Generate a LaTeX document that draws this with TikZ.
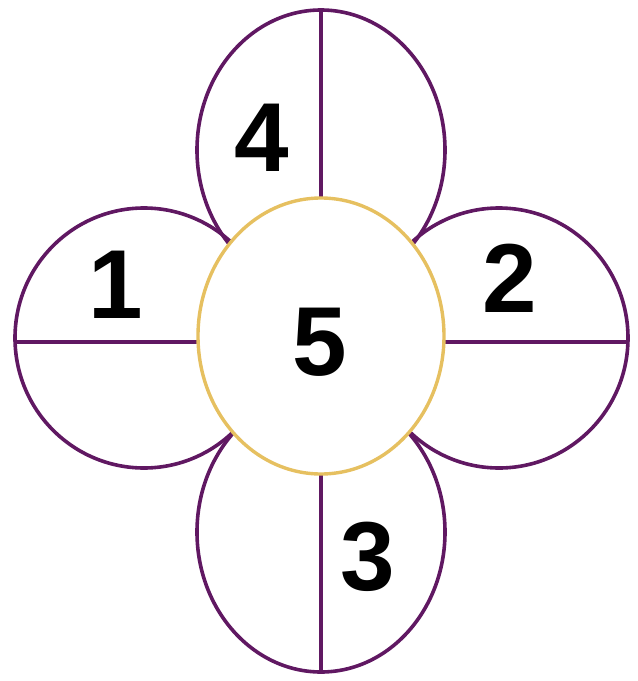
\documentclass[tikz,border=0pt]{standalone}
\usepackage{fontspec}
\setmainfont{Liberation Sans}
\definecolor{petalpurple}{RGB}{96,24,98}
\definecolor{hubgold}{RGB}{230,192,96}

\begin{document}
\begin{tikzpicture}[x=1pt, y=-1pt,
  petal/.style={draw=petalpurple, line width=3.6pt},
  hub/.style={draw=hubgold, fill=white, line width=3.4pt},
  digit/.style={inner sep=0pt, text=black, font=\fontsize{98}{98}\selectfont\bfseries}]

  \useasboundingbox (0,0) rectangle (638,681);

  % centre of the flower and the outer tips of the petals
  \coordinate (hubc) at (321,336);
  \coordinate (toptip) at (321,10);
  \coordinate (bottip) at (321,672);
  \coordinate (lefttip) at (15,342);
  \coordinate (righttip) at (628,342);

  % petals
  \draw[petal] (321,150) ellipse [x radius=124, y radius=140];
  \draw[petal] (321,532) ellipse [x radius=124, y radius=140];
  \draw[petal] (144,338) ellipse [x radius=129, y radius=130];
  \draw[petal] (499,338) ellipse [x radius=129, y radius=130];

  % dividing lines
  \draw[petal] (toptip) -- (hubc);
  \draw[petal] (bottip) -- (hubc);
  \draw[petal] (lefttip) -- (lefttip -| hubc);
  \draw[petal] (righttip) -- (righttip -| hubc);

  % centre
  \draw[hub] (hubc) ellipse [x radius=123, y radius=138];

  \node[digit] (n4) at (262,138) {4};
  \node[digit] (n1) at (116,285) {1};
  \node[digit] (n2) at (510,278) {2};
  \node[digit] (n3) at (368,557) {3};
  \node[digit] (n5) at (320,342) {5};

\end{tikzpicture}
\end{document}
